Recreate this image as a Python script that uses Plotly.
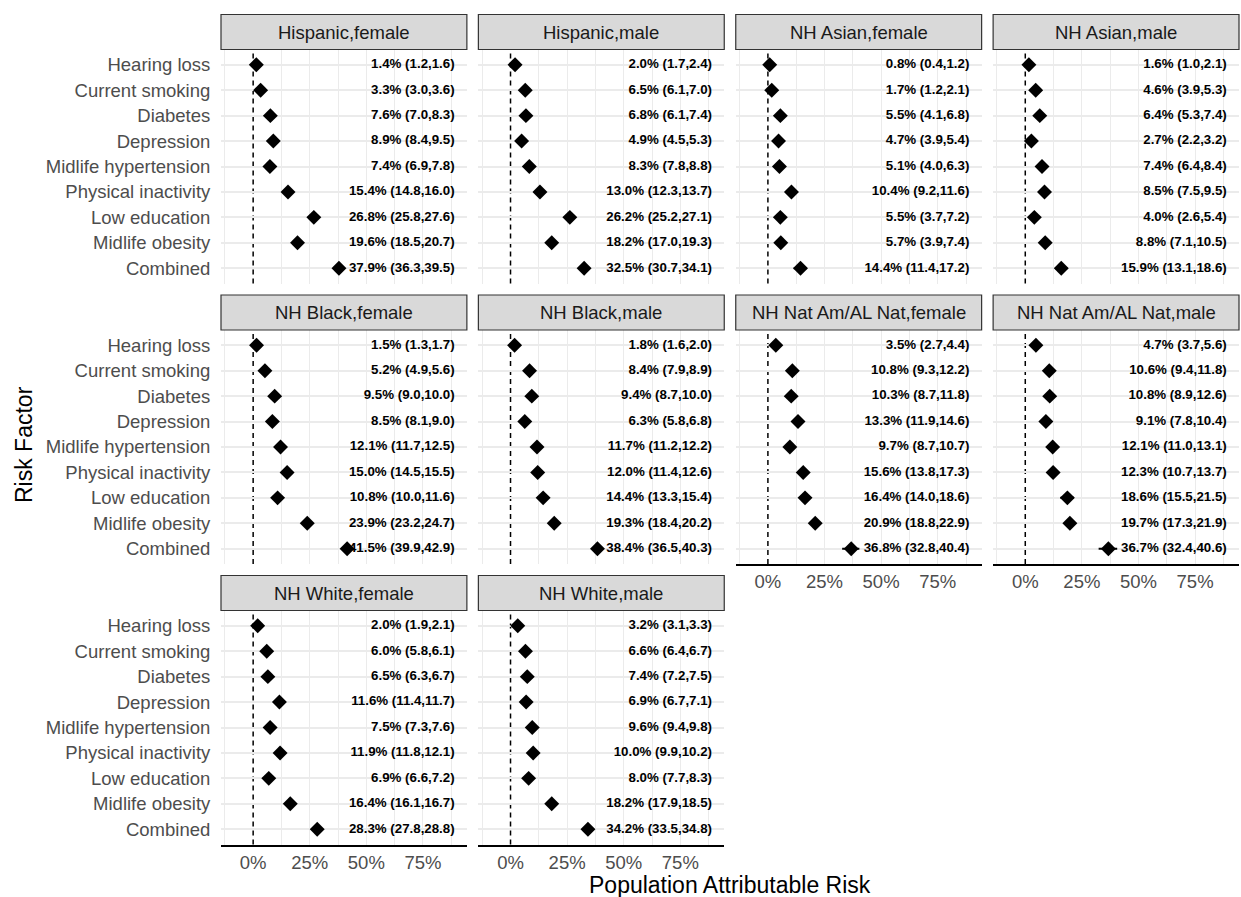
import plotly.graph_objects as go

W, H = 1241, 897
FONT = "Liberation Sans, Arial, Helvetica, sans-serif"

risk_factors = ["Hearing loss", "Current smoking", "Diabetes", "Depression",
                "Midlife hypertension", "Physical inactivity", "Low education",
                "Midlife obesity", "Combined"]

panel_names = ["Hispanic,female", "Hispanic,male", "NH Asian,female", "NH Asian,male",
               "NH Black,female", "NH Black,male", "NH Nat Am/AL Nat,female",
               "NH Nat Am/AL Nat,male", "NH White,female", "NH White,male"]

# Population attributable risk (%) with 95% CI, per panel, in risk_factors order
hisp_f_par = [1.4, 3.3, 7.6, 8.9, 7.4, 15.4, 26.8, 19.6, 37.9]
hisp_f_lo = [1.2, 3.0, 7.0, 8.4, 6.9, 14.8, 25.8, 18.5, 36.3]
hisp_f_hi = [1.6, 3.6, 8.3, 9.5, 7.8, 16.0, 27.6, 20.7, 39.5]

hisp_m_par = [2.0, 6.5, 6.8, 4.9, 8.3, 13.0, 26.2, 18.2, 32.5]
hisp_m_lo = [1.7, 6.1, 6.1, 4.5, 7.8, 12.3, 25.2, 17.0, 30.7]
hisp_m_hi = [2.4, 7.0, 7.4, 5.3, 8.8, 13.7, 27.1, 19.3, 34.1]

asian_f_par = [0.8, 1.7, 5.5, 4.7, 5.1, 10.4, 5.5, 5.7, 14.4]
asian_f_lo = [0.4, 1.2, 4.1, 3.9, 4.0, 9.2, 3.7, 3.9, 11.4]
asian_f_hi = [1.2, 2.1, 6.8, 5.4, 6.3, 11.6, 7.2, 7.4, 17.2]

asian_m_par = [1.6, 4.6, 6.4, 2.7, 7.4, 8.5, 4.0, 8.8, 15.9]
asian_m_lo = [1.0, 3.9, 5.3, 2.2, 6.4, 7.5, 2.6, 7.1, 13.1]
asian_m_hi = [2.1, 5.3, 7.4, 3.2, 8.4, 9.5, 5.4, 10.5, 18.6]

black_f_par = [1.5, 5.2, 9.5, 8.5, 12.1, 15.0, 10.8, 23.9, 41.5]
black_f_lo = [1.3, 4.9, 9.0, 8.1, 11.7, 14.5, 10.0, 23.2, 39.9]
black_f_hi = [1.7, 5.6, 10.0, 9.0, 12.5, 15.5, 11.6, 24.7, 42.9]

black_m_par = [1.8, 8.4, 9.4, 6.3, 11.7, 12.0, 14.4, 19.3, 38.4]
black_m_lo = [1.6, 7.9, 8.7, 5.8, 11.2, 11.4, 13.3, 18.4, 36.5]
black_m_hi = [2.0, 8.9, 10.0, 6.8, 12.2, 12.6, 15.4, 20.2, 40.3]

natam_f_par = [3.5, 10.8, 10.3, 13.3, 9.7, 15.6, 16.4, 20.9, 36.8]
natam_f_lo = [2.7, 9.3, 8.7, 11.9, 8.7, 13.8, 14.0, 18.8, 32.8]
natam_f_hi = [4.4, 12.2, 11.8, 14.6, 10.7, 17.3, 18.6, 22.9, 40.4]

natam_m_par = [4.7, 10.6, 10.8, 9.1, 12.1, 12.3, 18.6, 19.7, 36.7]
natam_m_lo = [3.7, 9.4, 8.9, 7.8, 11.0, 10.7, 15.5, 17.3, 32.4]
natam_m_hi = [5.6, 11.8, 12.6, 10.4, 13.1, 13.7, 21.5, 21.9, 40.6]

white_f_par = [2.0, 6.0, 6.5, 11.6, 7.5, 11.9, 6.9, 16.4, 28.3]
white_f_lo = [1.9, 5.8, 6.3, 11.4, 7.3, 11.8, 6.6, 16.1, 27.8]
white_f_hi = [2.1, 6.1, 6.7, 11.7, 7.6, 12.1, 7.2, 16.7, 28.8]

white_m_par = [3.2, 6.6, 7.4, 6.9, 9.6, 10.0, 8.0, 18.2, 34.2]
white_m_lo = [3.1, 6.4, 7.2, 6.7, 9.4, 9.9, 7.7, 17.9, 33.5]
white_m_hi = [3.3, 6.7, 7.5, 7.1, 9.8, 10.2, 8.3, 18.5, 34.8]

x_tickvals = [0, 25, 50, 75]
x_ticktext = ["0%", "25%", "50%", "75%"]
x_gridvals = [-12.5, 12.5, 25, 37.5, 50, 62.5, 75, 87.5]

panel_data = [
    (hisp_f_par, hisp_f_lo, hisp_f_hi), (hisp_m_par, hisp_m_lo, hisp_m_hi),
    (asian_f_par, asian_f_lo, asian_f_hi), (asian_m_par, asian_m_lo, asian_m_hi),
    (black_f_par, black_f_lo, black_f_hi), (black_m_par, black_m_lo, black_m_hi),
    (natam_f_par, natam_f_lo, natam_f_hi), (natam_m_par, natam_m_lo, natam_m_hi),
    (white_f_par, white_f_lo, white_f_hi), (white_m_par, white_m_lo, white_m_hi),
]

# ---- layout geometry (pixels) ----
PLOT_L, PLOT_R = 221, 1239
GAP_X = 11.5
PW = (PLOT_R - PLOT_L - 3 * GAP_X) / 4
ROW_BOTTOMS = [283.5, 564, 844.5]
PH = 234
STRIP_H = 35
LABEL_X = 89  # data position of right edge of value labels (%)
XRANGE = [-14.2, 94.4]

def px(x):
    return x / W

def py(y):
    return 1 - y / H

fig = go.Figure()
shapes = []
annotations = []
layout_axes = {}

bottom_panels = {6, 7, 8, 9}

for i, (name, (par, lo, hi)) in enumerate(zip(panel_names, panel_data)):
    row, col = divmod(i, 4)
    k = "" if i == 0 else str(i + 1)
    x0 = PLOT_L + col * (PW + GAP_X)
    x1 = x0 + PW
    yb = ROW_BOTTOMS[row]
    yt = yb - PH

    labels = [f"<b>{v:.1f}% ({l:.1f},{h:.1f})</b>" for v, l, h in zip(par, lo, hi)]

    fig.add_trace(go.Scatter(
        x=[LABEL_X] * len(par), y=risk_factors, mode="text", text=labels,
        textposition="middle left",
        textfont=dict(family=FONT, size=13.3, color="black"),
        xaxis="x" + k, yaxis="y" + k, showlegend=False, hoverinfo="skip"))

    fig.add_trace(go.Scatter(
        x=par, y=risk_factors, mode="markers",
        marker=dict(symbol="diamond", size=11.5, color="black"),
        error_x=dict(type="data", symmetric=False,
                     array=[h - v for v, h in zip(par, hi)],
                     arrayminus=[v - l for v, l in zip(par, lo)],
                     color="black", thickness=2, width=0),
        xaxis="x" + k, yaxis="y" + k, showlegend=False))

    layout_axes["xaxis" + k] = dict(
        domain=[px(x0), px(x1)], anchor="y" + k, range=XRANGE,
        tickvals=x_tickvals, ticktext=x_ticktext,
        showticklabels=i in bottom_panels,
        tickfont=dict(family=FONT, size=18.5, color="#4D4D4D"),
        ticks="",
        showgrid=False,
        minor=dict(tickvals=x_gridvals, showgrid=True,
                   gridcolor="#EBEBEB", gridwidth=1.2, ticks=""),
        zeroline=False,
        showline=i in bottom_panels, linecolor="black", linewidth=2,
        fixedrange=True)
    layout_axes["yaxis" + k] = dict(
        domain=[py(yb), py(yt)], anchor="x" + k, type="category",
        categoryorder="array", categoryarray=risk_factors[::-1],
        range=[-0.6, len(risk_factors) - 0.4],
        showticklabels=(col == 0),
        tickfont=dict(family=FONT, size=18.5, color="#4D4D4D"),
        ticks="outside", ticklen=6, tickcolor="rgba(0,0,0,0)",
        showgrid=True, gridcolor="#EBEBEB", gridwidth=1.6,
        zeroline=False, showline=False, fixedrange=True)

    # dashed reference line at 0
    shapes.append(dict(type="line", xref="x" + k, yref="y" + k + " domain",
                       x0=0, x1=0, y0=0, y1=1, layer="below",
                       line=dict(color="black", width=1.5, dash="5px,4px")))
    # strip
    shapes.append(dict(type="rect", xref="paper", yref="paper",
                       x0=px(x0), x1=px(x1), y0=py(yt), y1=py(yt - STRIP_H),
                       fillcolor="#D9D9D9", line=dict(color="#333333", width=1.2),
                       layer="above"))
    annotations.append(dict(text=name, xref="paper", yref="paper",
                            x=px((x0 + x1) / 2), y=py(yt - STRIP_H / 2),
                            xanchor="center", yanchor="middle", showarrow=False,
                            font=dict(family=FONT, size=18.5, color="#1A1A1A")))

# axis titles
annotations.append(dict(text="Population Attributable Risk", xref="paper", yref="paper",
                        x=px((PLOT_L + PLOT_R) / 2), y=py(885), xanchor="center",
                        yanchor="middle", showarrow=False,
                        font=dict(family=FONT, size=23, color="black")))
annotations.append(dict(text="Risk Factor", xref="paper", yref="paper",
                        x=px(24), y=py(445), xanchor="center", yanchor="middle",
                        textangle=-90, showarrow=False,
                        font=dict(family=FONT, size=23, color="black")))

fig.update_layout(
    width=W, height=H, autosize=False,
    margin=dict(l=0, r=0, t=0, b=0, pad=0),
    paper_bgcolor="white", plot_bgcolor="white",
    shapes=shapes, annotations=annotations,
    showlegend=False,
    **layout_axes,
)

fig.write_html("out.html", config={"displayModeBar": False},
               post_script="document.body.style.margin='0';")
